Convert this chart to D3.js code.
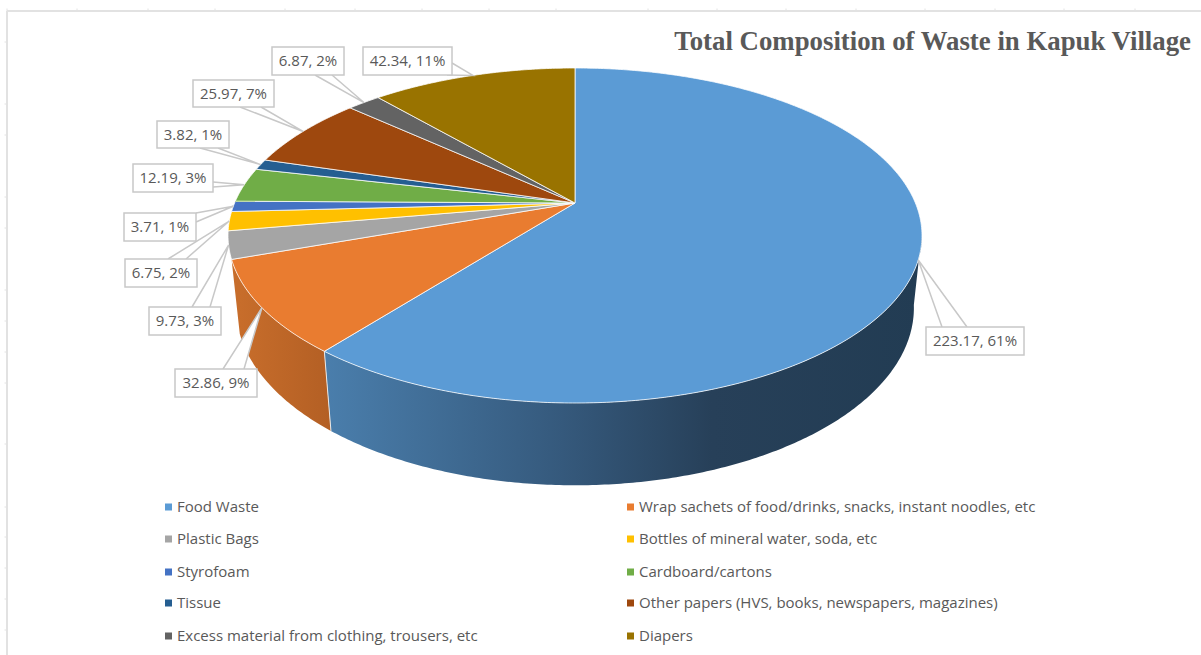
<!DOCTYPE html>
<html>
<head>
<meta charset="utf-8">
<script src="https://cdn.jsdelivr.net/npm/d3@7"></script>
<style>
  html, body { margin: 0; padding: 0; background: #fff; }
  svg { display: block; }
</style>
</head>
<body>
<svg id="chart" width="1201" height="655"></svg>
<script>
// Waste categories and their measured amounts
const categories = [
  "Food Waste",
  "Wrap sachets of food/drinks, snacks, instant noodles, etc",
  "Plastic Bags",
  "Bottles of mineral water, soda, etc",
  "Styrofoam",
  "Cardboard/cartons",
  "Tissue",
  "Other papers (HVS, books, newspapers, magazines)",
  "Excess material from clothing, trousers, etc",
  "Diapers"
];
const values = [223.17, 32.86, 9.73, 6.75, 3.71, 12.19, 3.82, 25.97, 6.87, 42.34];
const percentLabels = ["61%", "9%", "3%", "2%", "1%", "3%", "1%", "7%", "2%", "11%"];
const colors = ["#5b9bd5", "#e97c30", "#a5a5a5", "#ffc000", "#4472c4", "#70ad47", "#255e91", "#9e480e", "#636363", "#997300"];

// Callout boxes beside the pie: [left, top, right, bottom, base-a x, base-a y, base-b x, base-b y]
const calloutLayout = [
  [926, 327, 1024, 355, 942, 327, 967, 327],
  [175, 369, 257, 397, 223, 369, 244, 369],
  [149, 307, 221, 335, 192, 307, 210, 307],
  [125, 259, 197, 287, 168, 259, 186, 259],
  [124, 213, 196, 241, 196, 213, 196, 222],
  [133, 164, 213, 192, 213, 182, 213, 187],
  [157, 121, 229, 148, 200, 148, 218, 148],
  [193, 80, 274, 107, 240, 107, 261, 107],
  [272, 47, 344, 75, 315, 75, 332, 75],
  [363, 47, 452, 75, 452, 63, 447, 75]
];

// Frame handle positions along the top and left edges
const topHandles = [7, 77, 148, 215, 285, 355, 422, 489, 556, 648, 717, 786, 856, 925, 995, 1064, 1135];
const leftHandles = [42, 104, 135, 197, 228, 290, 321, 352, 383, 444, 507, 537, 568, 599, 630];

const svg = d3.select("#chart");

// Frame rulers
const frame = svg.append("g").attr("stroke", "#e2e2e2").attr("fill", "none");
frame.append("line").attr("x1", 7).attr("x2", 1201).attr("y1", 11).attr("y2", 11).attr("stroke-width", 2);
frame.append("line").attr("x1", 7).attr("x2", 7).attr("y1", 11).attr("y2", 655).attr("stroke-width", 2);
frame.selectAll(".tx").data(topHandles).join("line")
  .attr("x1", d => d).attr("x2", d => d).attr("y1", 8.5).attr("y2", 11);
frame.selectAll(".ty").data(leftHandles).join("line")
  .attr("y1", d => d).attr("y2", d => d).attr("x1", 4.5).attr("x2", 7);

// Perspective projection of the pie disc: apex on screen, foreshortening and depth
const apex = { x: 575, y: 203 };
const A = 340.4, B = 161.2, K = 0.194;
const DEPTH_W = 0.023, DEPTH_Y = 72.8;

function project(theta, lower) {
  const u = Math.sin(theta), v = -Math.cos(theta);
  const w = 1 - K * v + (lower ? DEPTH_W : 0);
  return [apex.x + A * u / w, apex.y + (B * v + (lower ? DEPTH_Y : 0)) / w];
}

function arcSamples(a0, a1, lower) {
  const n = Math.max(2, Math.ceil(Math.abs(a1 - a0) / 0.01));
  return d3.range(n + 1).map(i => project(a0 + (a1 - a0) * i / n, lower));
}

const pie = d3.pie().sort(null).value(d => d);
const slices = pie(values);
const line = d3.line();

// Horizontal shading of the extruded wall
const defs = svg.append("defs");
const wallGradient = (id, x1, x2, stops) => {
  const g = defs.append("linearGradient").attr("id", id)
    .attr("gradientUnits", "userSpaceOnUse")
    .attr("x1", x1).attr("x2", x2).attr("y1", 0).attr("y2", 0);
  stops.forEach(s => g.append("stop").attr("offset", s[0]).attr("stop-color", s[1]));
};
wallGradient("wall0", 325, 920, [[0, "#4a7eac"], [0.4, "#35597c"], [0.65, "#274059"], [1, "#223c53"]]);
wallGradient("wall1", 240, 332, [[0, "#c76d2b"], [1, "#b35f24"]]);

// Wall sections of the two front slices
const wallFaces = [
  { i: 0, a0: 100 * Math.PI / 180, a1: slices[0].endAngle },
  { i: 1, a0: slices[1].startAngle, a1: slices[1].endAngle }
];
svg.append("g").selectAll("path").data(wallFaces).join("path")
  .attr("d", d => line(arcSamples(d.a0, d.a1, false).concat(arcSamples(d.a1, d.a0, true))) + "Z")
  .attr("fill", d => `url(#wall${d.i})`);
svg.append("line")
  .datum(slices[0].endAngle)
  .attr("x1", d => project(d, false)[0]).attr("y1", d => project(d, false)[1])
  .attr("x2", d => project(d, true)[0]).attr("y2", d => project(d, true)[1])
  .attr("stroke", "#e8e8e8").attr("stroke-width", 1);

// Top face of every slice
svg.append("g").selectAll("path").data(slices).join("path")
  .attr("d", d => line([[apex.x, apex.y]].concat(arcSamples(d.startAngle, d.endAngle, false))) + "Z")
  .attr("fill", (d, i) => colors[i])
  .attr("stroke", "#fff").attr("stroke-opacity", 0.85).attr("stroke-width", 0.9).attr("stroke-linejoin", "round");

// Value callouts with a wedge running to the rim of each slice
const callouts = svg.append("g").selectAll("g").data(slices).join("g");
callouts.append("path")
  .attr("d", (d, i) => {
    const b = calloutLayout[i];
    const tip = project((d.startAngle + d.endAngle) / 2, false);
    return line([[b[4], b[5]], tip, [b[6], b[7]]]);
  })
  .attr("fill", "#fff").attr("stroke", "#c8c8c8").attr("stroke-width", 1.5);
callouts.append("rect")
  .attr("x", (d, i) => calloutLayout[i][0]).attr("y", (d, i) => calloutLayout[i][1])
  .attr("width", (d, i) => calloutLayout[i][2] - calloutLayout[i][0])
  .attr("height", (d, i) => calloutLayout[i][3] - calloutLayout[i][1])
  .attr("fill", "#fff").attr("stroke", "#c8c8c8").attr("stroke-width", 1.5);
callouts.append("text")
  .attr("x", (d, i) => (calloutLayout[i][0] + calloutLayout[i][2]) / 2)
  .attr("y", (d, i) => (calloutLayout[i][1] + calloutLayout[i][3]) / 2 + 5)
  .attr("text-anchor", "middle")
  .attr("font-family", "'Open Sans', sans-serif").attr("font-size", 15).attr("fill", "#595959")
  .text((d, i) => `${values[i]}, ${percentLabels[i]}`);

// Chart title
svg.append("text").attr("x", 1191).attr("y", 50).attr("text-anchor", "end")
  .attr("font-family", "'Liberation Serif', serif").attr("font-weight", "bold")
  .attr("font-size", 26.8).attr("fill", "#595959")
  .text("Total Composition of Waste in Kapuk Village");

// Two-column legend
const legendRows = [507, 539, 572, 603, 636];
const legend = svg.append("g").selectAll("g").data(categories).join("g")
  .attr("transform", (d, i) => `translate(${i % 2 ? 627 : 165},${legendRows[Math.floor(i / 2)]})`);
legend.append("rect").attr("x", 0).attr("y", -3.5).attr("width", 7).attr("height", 7)
  .attr("fill", (d, i) => colors[i]);
legend.append("text").attr("x", 12).attr("y", 5)
  .attr("font-family", "'Open Sans', sans-serif").attr("font-size", 15).attr("fill", "#595959")
  .text(d => d);
</script>
</body>
</html>
